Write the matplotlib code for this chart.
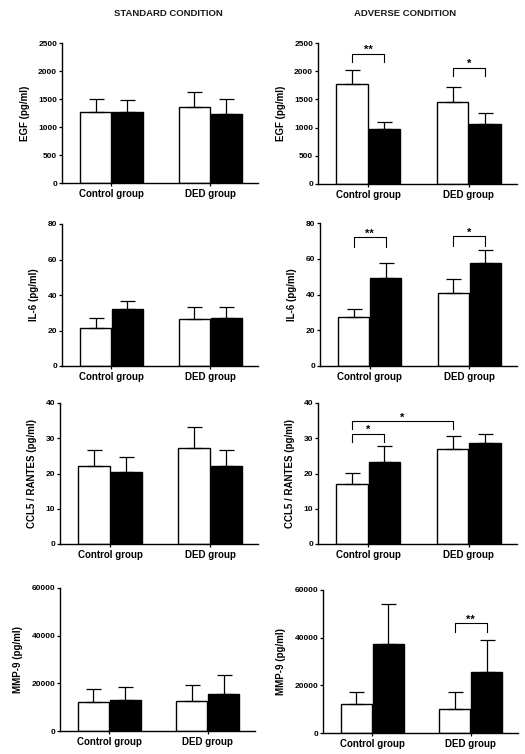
import matplotlib
matplotlib.use('Agg')
import matplotlib.pyplot as plt
import numpy as np

plt.rcParams['font.family'] = ['Liberation Sans', 'DejaVu Sans']
plt.rcParams['font.weight'] = 'bold'

groups = ['Control group', 'DED group']
conditions = ['STANDARD CONDITION', 'ADVERSE CONDITION']

# values: open bars / filled bars, upper error (SEM)
egf_std_open = [1262, 1362]
egf_std_open_err = [231, 267]
egf_std_fill = [1268, 1238]
egf_std_fill_err = [219, 267]
egf_adv_open = [1765, 1459]
egf_adv_open_err = [253, 253]
egf_adv_fill = [971, 1071]
egf_adv_fill_err = [135, 188]

il6_std_open = [21.3, 26.7]
il6_std_open_err = [5.6, 6.4]
il6_std_fill = [32.2, 27.3]
il6_std_fill_err = [4.5, 5.8]
il6_adv_open = [27.3, 40.9]
il6_adv_open_err = [4.8, 7.9]
il6_adv_fill = [49.5, 57.8]
il6_adv_fill_err = [8.1, 7.2]

ccl5_std_open = [22.1, 27.2]
ccl5_std_open_err = [4.5, 6.1]
ccl5_std_fill = [20.5, 22.2]
ccl5_std_fill_err = [4.1, 4.6]
ccl5_adv_open = [17.0, 26.9]
ccl5_adv_open_err = [3.2, 3.6]
ccl5_adv_fill = [23.4, 28.6]
ccl5_adv_fill_err = [4.4, 2.7]

mmp9_std_open = [12170, 12590]
mmp9_std_open_err = [5310, 6570]
mmp9_std_fill = [12870, 15390]
mmp9_std_fill_err = [5450, 8250]
mmp9_adv_open = [12340, 10090]
mmp9_adv_open_err = [5050, 7290]
mmp9_adv_fill = [37290, 25650]
mmp9_adv_fill_err = [16680, 13320]

ylabels = ['EGF (pg/ml)', 'IL-6 (pg/ml)', 'CCL5 / RANTES (pg/ml)', 'MMP-9 (pg/ml)']
ymax = [2500, 80, 40, 60000]
ystep = [500, 20, 10, 20000]

# significance brackets: (row, bar a, bar b, left end, top, right end, label)
# bars numbered 0 open ctrl, 1 filled ctrl, 2 open DED, 3 filled DED
sig = [
    (0, 0, 1, 2165, 2312, 2165, '**'),
    (0, 2, 3, 1912, 2065, 1912, '*'),
    (1, 0, 1, 66.5, 72.1, 66.5, '**'),
    (1, 2, 3, 67.3, 72.5, 67.3, '*'),
    (2, 0, 1, 29.0, 31.3, 29.0, '*'),
    (2, 0, 2, 32.7, 34.8, 32.6, '*'),
    (3, 2, 3, 42480, 45980, 42480, '**'),
]

data = [
    [(egf_std_open, egf_std_open_err, egf_std_fill, egf_std_fill_err),
     (egf_adv_open, egf_adv_open_err, egf_adv_fill, egf_adv_fill_err)],
    [(il6_std_open, il6_std_open_err, il6_std_fill, il6_std_fill_err),
     (il6_adv_open, il6_adv_open_err, il6_adv_fill, il6_adv_fill_err)],
    [(ccl5_std_open, ccl5_std_open_err, ccl5_std_fill, ccl5_std_fill_err),
     (ccl5_adv_open, ccl5_adv_open_err, ccl5_adv_fill, ccl5_adv_fill_err)],
    [(mmp9_std_open, mmp9_std_open_err, mmp9_std_fill, mmp9_std_fill_err),
     (mmp9_adv_open, mmp9_adv_open_err, mmp9_adv_fill, mmp9_adv_fill_err)],
]

W, H = 525, 754
# axes boxes in pixels: left, right, top, bottom
boxes = [
    [(62, 258, 43, 183), (318, 517, 43, 184)],
    [(62, 258, 224, 366), (320, 517, 223, 366)],
    [(60, 258, 403, 544), (318, 517, 403, 544)],
    [(60, 255, 588, 731), (323, 518, 590, 733)],
]

fig = plt.figure(figsize=(W / 100, H / 100), dpi=100)

w = 0.313
gap = 0.01
xg = np.arange(len(groups))
x_open = xg - gap / 2 - w / 2
x_fill = xg + gap / 2 + w / 2

for r in range(4):
    for c in range(2):
        l, rr, t, b = boxes[r][c]
        ax = fig.add_axes([l / W, 1 - b / H, (rr - l) / W, (b - t) / H])
        o, oe, f, fe = data[r][c]
        ax.bar(x_open, o, w, color='white', edgecolor='black', linewidth=1.0, zorder=2)
        ax.bar(x_fill, f, w, color='black', edgecolor='black', linewidth=1.0, zorder=2)
        ax.errorbar(x_open, o, yerr=[np.zeros(2), oe], fmt='none', ecolor='black',
                    elinewidth=0.9, capsize=5.4, capthick=0.9, zorder=3)
        ax.errorbar(x_fill, f, yerr=[np.zeros(2), fe], fmt='none', ecolor='black',
                    elinewidth=0.9, capsize=5.4, capthick=0.9, zorder=1)
        ax.set_xlim(-0.5, 1.48)
        ax.set_ylim(0, ymax[r])
        ax.set_yticks(np.arange(0, ymax[r] + 1, ystep[r]))
        ax.set_xticks(xg)
        ax.set_xticklabels(groups, fontsize=7, fontweight='bold')
        ax.tick_params(axis='y', labelsize=6, length=2.5, width=0.9, pad=1)
        ax.tick_params(axis='x', length=2.5, width=0.9, pad=1.5)
        for lab in ax.get_yticklabels():
            lab.set_fontweight('bold')
        ax.spines['top'].set_visible(False)
        ax.spines['right'].set_visible(False)
        ax.spines['left'].set_linewidth(1.0)
        ax.spines['bottom'].set_linewidth(1.0)
        ax.set_ylabel(ylabels[r], fontsize=7, fontweight='bold', labelpad=6)

        if c == 1:
            centers = [x_open[0], x_fill[0], x_open[1], x_fill[1]]
            for row, a, bb, yl, yt, yr, txt in sig:
                if row != r:
                    continue
                xa, xb = centers[a], centers[bb]
                ax.plot([xa, xa, xb, xb], [yl, yt, yt, yr], color='black', lw=0.8,
                        clip_on=False)
                ax.annotate(txt, ((xa + xb) / 2, yt), xytext=(0, 0.5),
                            textcoords='offset points', ha='center', va='baseline',
                            fontsize=8, fontweight='bold')

fig.text(168 / W, 1 - 13 / H, conditions[0], ha='center', va='center',
         fontsize=6.8, fontweight='bold', color='#1a1a1a')
fig.text(405 / W, 1 - 13 / H, conditions[1], ha='center', va='center',
         fontsize=6.8, fontweight='bold', color='#1a1a1a')

fig.savefig('out.png', dpi=100)
